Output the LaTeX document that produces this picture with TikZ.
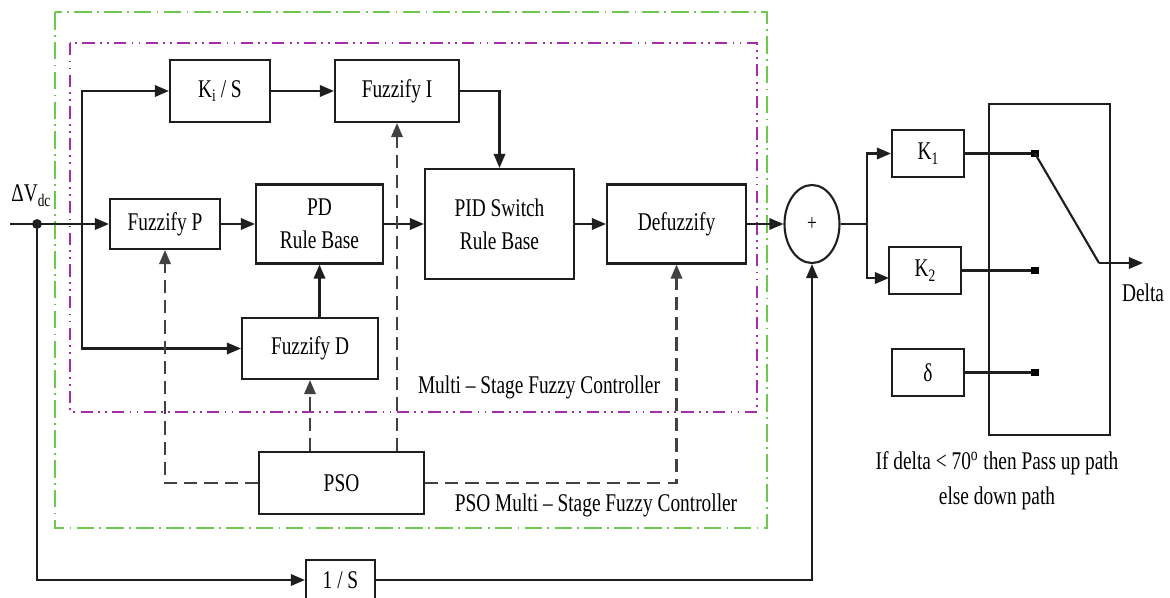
\documentclass[tikz,border=0pt]{standalone}
\usepackage{fontspec}
\setmainfont{Liberation Serif}[FakeStretch=0.76]
\usetikzlibrary{arrows.meta,shapes.geometric}
\newcommand\lsub[1]{\raisebox{-0.4ex}{\fontsize{10}{10}\selectfont #1}}
\definecolor{grn}{RGB}{110,200,80}
\definecolor{prp}{RGB}{165,45,170}
\definecolor{ln}{RGB}{30,30,30}
\definecolor{dg}{RGB}{65,65,65}
\tikzset{
  box/.style={draw=ln,line width=1.2pt,rectangle,inner sep=0pt,align=center,font=\fontsize{14.5}{17}\selectfont},
  lbl/.style={inner sep=0pt,align=center,font=\fontsize{14.5}{17}\selectfont},
  arr/.style={draw=ln,line width=1.2pt,-{Triangle[length=8pt,width=6.5pt]}},
  wire/.style={draw=ln,line width=1.2pt},
  dsh/.style={draw=dg,line width=1.2pt,dash pattern=on 7.5pt off 4pt},
  darr/.style={dsh,-{Triangle[length=8pt,width=6.5pt]}},
  contact/.style={fill=black,draw=none,minimum size=4.5pt,inner sep=0pt,rectangle},
  greenbox/.style={draw=grn,line width=1.1pt,dash pattern=on 10pt off 3pt on 1pt off 3pt},
  purplebox/.style={draw=prp,line width=1.1pt,dash pattern=on 7pt off 3pt on 1pt off 3pt on 1pt off 3pt},
}
\begin{document}
\begin{tikzpicture}[x=0.02cm,y=-0.02cm]
\useasboundingbox (0,0) rectangle (1170,598);
% frames
\draw[greenbox] (55,12) rectangle (767,528);
\draw[purplebox] (70,43) rectangle (757,412);
% blocks
\node[box,minimum width=2.0cm,minimum height=1.24cm] (KiS) at (220,91) {K\lsub{i} / S};
\node[box,minimum width=2.48cm,minimum height=1.24cm] (FI) at (397,91) {Fuzzify I};
\node[box,minimum width=2.2cm,minimum height=1.0cm] (FP) at (165,224) {Fuzzify P};
\node[box,minimum width=2.54cm,minimum height=1.58cm] (PD) at (319.5,224) {PD\\[2pt]Rule Base};
\node[box,minimum width=2.98cm,minimum height=2.2cm] (PID) at (499.5,224) {PID Switch\\[2pt]Rule Base};
\node[box,minimum width=2.78cm,minimum height=1.58cm] (DF) at (676.5,224) {Defuzzify};
\node[box,minimum width=2.72cm,minimum height=1.22cm] (FD) at (310,348.5) {Fuzzify D};
\node[box,minimum width=3.3cm,minimum height=1.24cm] (PSO) at (341.5,483) {PSO};
\node[box,minimum width=1.38cm,minimum height=0.8cm] (IS) at (340.5,580) {1 / S};
\node[box,ellipse,minimum width=1.1cm,minimum height=1.56cm,font=\fontsize{13}{13}\selectfont] (sum) at (812,224) {+};
\node[box,minimum width=1.44cm,minimum height=0.94cm] (K1) at (928,153.5) {K\lsub{1}};
\node[box,minimum width=1.44cm,minimum height=0.94cm] (K2) at (925,270.5) {K\lsub{2}};
\node[box,minimum width=1.44cm,minimum height=0.94cm] (dl) at (928,372.5) {δ};
\node[box,minimum width=2.42cm,minimum height=6.62cm] (SW) at (1049.5,269.5) {};
% labels
\node[lbl,anchor=west] (dv) at (11,196) {ΔV\lsub{dc}};
\node[lbl] (mlab) at (539,387) {Multi – Stage Fuzzy Controller};
\node[lbl] (plab) at (596,505) {PSO Multi – Stage Fuzzy Controller};
\node[lbl] (cond) at (997,481) {If delta < 70\textsuperscript{o} then Pass up path\\[3pt]else down path};
\node[lbl] (dlab) at (1143,293) {Delta};
% coordinates
\coordinate (in) at (10,224);
\coordinate (J) at (37,224);
\coordinate (B) at (82,224);
\coordinate (S2) at (867,224);
\coordinate (k2in) at (889,278);
\coordinate (swp) at (1099,263);
\coordinate (out) at (1143,263);
\fill[ln] (J) circle (2.8pt);
% main path
\draw[arr] (in) -- (FP.west);
\draw[arr] (B) |- (KiS.west);
\draw[arr] (B) |- (FD.west);
\draw[arr] (KiS.east) -- (FI.west);
\draw[arr] (FI.east) -| (PID.north);
\draw[arr] (FP.east) -- (PD.west);
\draw[arr] (PD.east) -- (PID.west);
\draw[arr] (PID.east) -- (DF.west);
\draw[arr] (DF.east) -- (sum.west);
\draw[arr] (PD.south |- FD.north) -- (PD.south);
% PSO dashed
\draw[darr] (PSO.north -| FD.south) -- (FD.south);
\draw[darr] (PSO.north -| FI.south) -- (FI.south);
\draw[darr] (PSO.west) -| (FP.south);
\draw[darr] (PSO.east) -| (DF.south);
% integral path
\draw[arr] (J) |- (IS.west);
\draw[arr] (IS.east) -| (sum.south);
% output side
\draw[wire] (sum.east) -- (S2);
\draw[arr] (S2) |- (K1.west);
\draw[arr] (S2) |- (k2in);
\node[contact] (c1) at (1035,153.5) {};
\node[contact] (c2) at (1035,270.5) {};
\node[contact] (c3) at (1035,372.5) {};
\draw[wire] (K1.east) -- (c1);
\draw[wire] (K2.east) -- (c2);
\draw[wire] (dl.east) -- (c3);
\draw[wire] (c1.center) -- (swp);
\draw[arr] (swp) -- (out);
\end{tikzpicture}
\end{document}
